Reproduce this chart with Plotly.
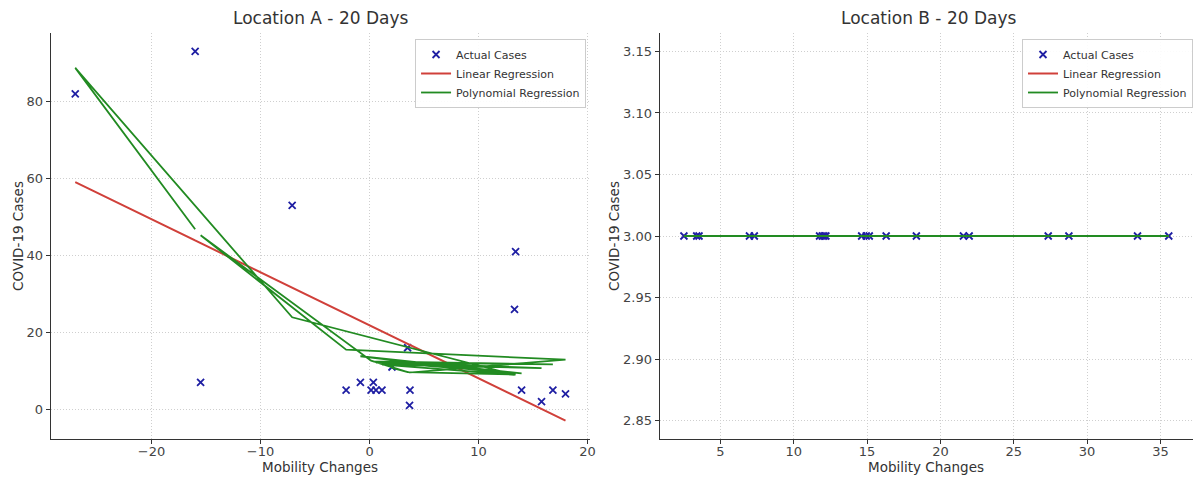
import numpy as np
import plotly.graph_objects as go

# ---------------- data ----------------
mobility_a = [-16.0, -27.0, -7.1, 13.3, 1.14, 15.78, 0.59, 16.82, 0.35, 13.95,
              -0.84, 13.4, 3.49, 0.14, -15.5, -2.15, 17.98, 3.67, 2.06, 3.71]
cases_a = [93, 82, 53, 26, 5, 2, 5, 5, 7, 5,
           7, 41, 16, 5, 7, 5, 4, 1, 11, 5]

mobility_b = [2.51, 3.38, 3.54, 6.98, 7.31, 11.76, 11.94, 12.06, 12.19, 14.63,
              14.94, 15.15, 16.30, 18.36, 21.57, 21.96, 27.35, 28.76, 33.44, 35.57]
cases_b = [3, 3, 3, 3, 3, 3, 3, 3, 3, 3,
           3, 3, 3, 3, 3, 3, 3, 3, 3, 3]

titles = ["Location A - 20 Days", "Location B - 20 Days"]
x_label = "Mobility Changes"
y_label = "COVID-19 Cases"
legend_names = ["Actual Cases", "Linear Regression", "Polynomial Regression"]

x_ticks_a = [-20, -10, 0, 10, 20]
y_ticks_a = [0, 20, 40, 60, 80]
x_ticks_b = [5, 10, 15, 20, 25, 30, 35]
y_ticks_b = [2.85, 2.90, 2.95, 3.00, 3.05, 3.10, 3.15]

# ---------------- style ----------------
BLUE = "#1f1fa3"
RED = "#d0403a"
GREEN = "#228b22"
TEXT = "#444444"
FONT = "DejaVu Sans"

W, H = 1199, 478
LEFT_X0, LEFT_X1 = 51, 593
RIGHT_X0, RIGHT_X1 = 663, 1199
TOP_Y, BOT_Y = 33, 439


def fits(x, y):
    x = np.asarray(x, float)
    y = np.asarray(y, float)
    lin = np.polyval(np.polyfit(x, y, 1), x)
    poly = np.polyval(np.polyfit(x, y, 2), x)
    return lin, poly


def mpl_limits(vals):
    v = np.round(np.asarray(vals, float), 8)
    lo, hi = float(v.min()), float(v.max())
    if hi == lo:
        lo, hi = lo - 0.05 * abs(lo), hi + 0.05 * abs(hi)
    pad = 0.05 * (hi - lo)
    return [lo - pad, hi + pad]


lin_a, poly_a = fits(mobility_a, cases_a)
lin_b, poly_b = fits(mobility_b, cases_b)

xlim_a = mpl_limits(mobility_a)
ylim_a = mpl_limits(list(cases_a) + list(lin_a) + list(poly_a))
xlim_b = mpl_limits(mobility_b)
ylim_b = mpl_limits(list(cases_b) + list(lin_b) + list(poly_b))

fig = go.Figure()

for (xs, ys, lin, poly, xa, ya, lg) in [
    (mobility_a, cases_a, lin_a, poly_a, "x", "y", "legend"),
    (mobility_b, cases_b, lin_b, poly_b, "x2", "y2", "legend2"),
]:
    fig.add_trace(go.Scatter(
        x=xs, y=ys, mode="markers", name=legend_names[0],
        marker=dict(symbol="x-thin", size=7, color=BLUE,
                    line=dict(width=1.8, color=BLUE)),
        xaxis=xa, yaxis=ya, legend=lg))
    fig.add_trace(go.Scatter(
        x=xs, y=lin, mode="lines", name=legend_names[1],
        line=dict(color=RED, width=2),
        xaxis=xa, yaxis=ya, legend=lg))
    fig.add_trace(go.Scatter(
        x=xs, y=poly, mode="lines", name=legend_names[2],
        line=dict(color=GREEN, width=1.8),
        xaxis=xa, yaxis=ya, legend=lg))

axis_common = dict(
    showline=True, linecolor="#333333", linewidth=1.2,
    ticks="outside", ticklen=4, tickwidth=1, tickcolor="#333333",
    showgrid=True, gridcolor="#cfcfcf", griddash="1px,2px", gridwidth=1,
    zeroline=False,
    tickfont=dict(family=FONT, size=13, color=TEXT),
)

ydom = [1 - BOT_Y / H, 1 - TOP_Y / H]

legend_common = dict(
    font=dict(family=FONT, size=11, color="#333333"),
    bgcolor="rgba(255,255,255,0.9)", bordercolor="#cccccc", borderwidth=1,
    xanchor="right", yanchor="top", tracegroupgap=0,
)

fig.update_layout(
    width=W, height=H,
    margin=dict(l=0, r=0, t=0, b=0),
    paper_bgcolor="white", plot_bgcolor="white",
    showlegend=True,
    hovermode=False,
    xaxis=dict(domain=[LEFT_X0 / W, LEFT_X1 / W], range=xlim_a,
               tickvals=x_ticks_a, anchor="y", ticklabelstandoff=-4,
               **axis_common),
    yaxis=dict(domain=ydom, range=ylim_a, tickvals=y_ticks_a,
               anchor="x", **axis_common),
    xaxis2=dict(domain=[RIGHT_X0 / W, RIGHT_X1 / W], range=xlim_b,
                tickvals=x_ticks_b, anchor="y2", ticklabelstandoff=-4,
                **axis_common),
    yaxis2=dict(domain=ydom, range=ylim_b, tickvals=y_ticks_b,
                tickformat=".2f", anchor="x2", **axis_common),
    legend=dict(x=589 / W, y=1 - 39 / H, **legend_common),
    legend2=dict(x=1.0, y=1 - 39 / H, **legend_common),
)

annotations = []
for title, x0, x1 in [
    (titles[0], LEFT_X0, LEFT_X1),
    (titles[1], RIGHT_X0, RIGHT_X0 + (LEFT_X1 - LEFT_X0)),
]:
    annotations.append(dict(
        text=title, x=(x0 + x1) / 2 / W, y=1 - 18 / H,
        xref="paper", yref="paper", xanchor="center", yanchor="middle",
        showarrow=False, font=dict(family=FONT, size=17, color="#333333")))
for x0, x1, ylab_x in [(LEFT_X0, LEFT_X1, 18), (RIGHT_X0, RIGHT_X1, 617)]:
    annotations.append(dict(
        text=x_label, x=(x0 + x1) / 2 / W, y=1 - 467 / H,
        xref="paper", yref="paper", xanchor="center", yanchor="middle",
        showarrow=False, font=dict(family=FONT, size=13.5, color="#333333")))
    annotations.append(dict(
        text=y_label, x=ylab_x / W, y=1 - (TOP_Y + BOT_Y) / 2 / H,
        xref="paper", yref="paper", xanchor="center", yanchor="middle",
        textangle=-90, showarrow=False,
        font=dict(family=FONT, size=13.5, color="#333333")))
fig.update_layout(annotations=annotations)

fig.write_html("out.html")
